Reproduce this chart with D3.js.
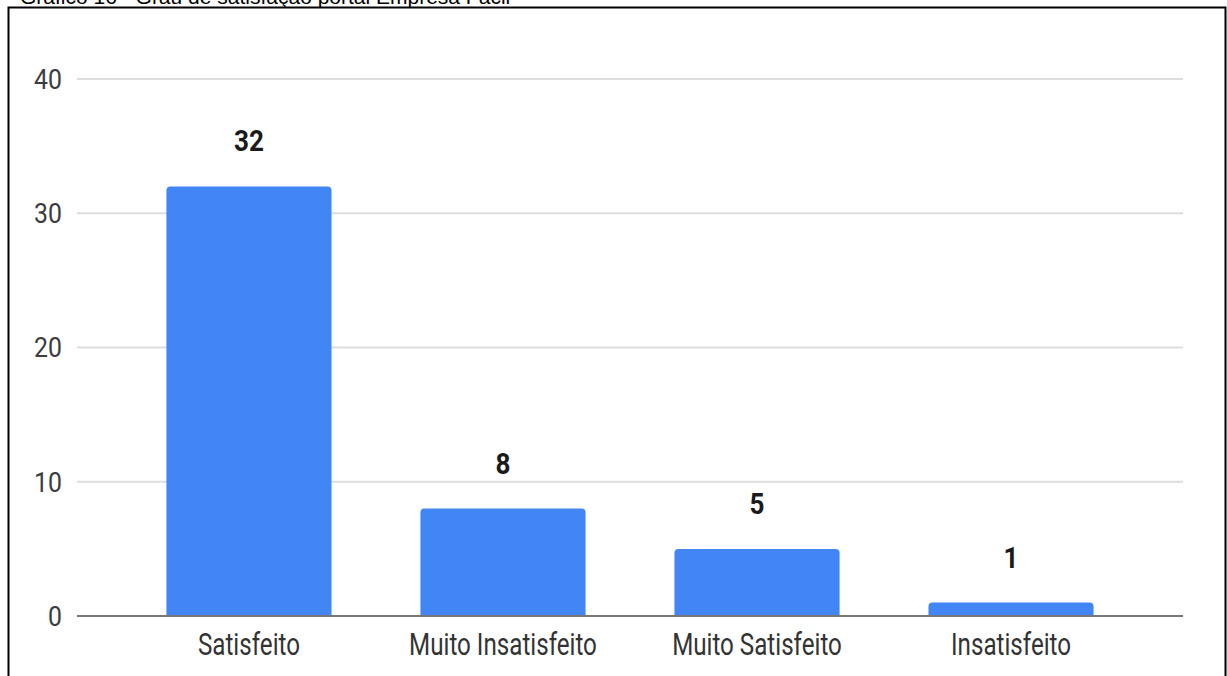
<!DOCTYPE html>
<html>
<head>
<meta charset="utf-8">
<script src="https://cdn.jsdelivr.net/npm/d3@7"></script>
<style>
  html, body { margin: 0; padding: 0; background: #fff; }
  svg { display: block; }
</style>
</head>
<body>
<svg id="chart" width="1227" height="676"></svg>
<script>
// Survey responses: satisfaction with the Empresa Fácil portal
const categories = ["Satisfeito", "Muito Insatisfeito", "Muito Satisfeito", "Insatisfeito"];
const counts = [32, 8, 5, 1];
const yTicks = [0, 10, 20, 30, 40];
const caption = "Gráfico 16 - Grau de satisfação portal Empresa Fácil";

const svg = d3.select("#chart");
const plot = { left: 77, right: 1183, top: 79, bottom: 616 };

const x = d3.scaleBand()
  .domain(categories)
  .range([plot.left, plot.right])
  .paddingInner(0.35)
  .paddingOuter(0.352);

const y = d3.scaleLinear()
  .domain([0, 40])
  .range([plot.bottom, plot.top]);

// Caption running off the top edge of the page
svg.append("text")
  .attr("x", 20)
  .attr("y", 4)
  .attr("font-family", "'Liberation Sans', Arial, sans-serif")
  .attr("font-size", 21)
  .attr("fill", "#000")
  .text(caption);

// Frame around the chart
svg.append("rect")
  .attr("x", 8.5).attr("y", 7.5)
  .attr("width", 1217).attr("height", 690)
  .attr("fill", "none")
  .attr("stroke", "#000")
  .attr("stroke-width", 2);

// Horizontal gridlines
svg.append("g")
  .selectAll("line")
  .data(yTicks.filter(d => d !== 0))
  .join("line")
  .attr("x1", plot.left).attr("x2", plot.right)
  .attr("y1", d => y(d)).attr("y2", d => y(d))
  .attr("stroke", "#dddddd")
  .attr("stroke-width", 2);

// Y tick labels
const yAxis = d3.axisLeft(y).tickValues(yTicks).tickSize(0).tickPadding(0);
const yg = svg.append("g").attr("transform", `translate(${plot.left - 15},0)`).call(yAxis);
yg.select(".domain").remove();
yg.selectAll("text")
  .attr("font-family", "Roboto, sans-serif")
  .attr("font-size", 27)
  .attr("fill", "#3c3c3c")
  .attr("dy", "0.35em")
  .attr("text-anchor", "end")
  .attr("x", 0)
  .attr("transform", "scale(0.92,1)");

// Bars with softly rounded tops
const r = 4;
function barPath(cat, v) {
  const x0 = x(cat), w = x.bandwidth();
  const y0 = y(v), yb = y(0);
  const rr = Math.min(r, (yb - y0));
  return `M${x0},${yb} V${y0 + rr} Q${x0},${y0} ${x0 + rr},${y0} H${x0 + w - rr} Q${x0 + w},${y0} ${x0 + w},${y0 + rr} V${yb} Z`;
}
const rows = categories.map((c, i) => ({ c, v: counts[i] }));
svg.append("g")
  .selectAll("path")
  .data(rows)
  .join("path")
  .attr("d", d => barPath(d.c, d.v))
  .attr("fill", "#4285f4");

// Baseline
svg.append("line")
  .attr("x1", plot.left).attr("x2", plot.right)
  .attr("y1", y(0)).attr("y2", y(0))
  .attr("stroke", "#777")
  .attr("stroke-width", 2);

// Value labels above bars
svg.append("g")
  .selectAll("text")
  .data(rows)
  .join("text")
  .attr("transform", d => `translate(${x(d.c) + x.bandwidth() / 2},${y(d.v) - 35}) scale(0.9,1)`)
  .attr("text-anchor", "middle")
  .attr("font-family", "Roboto, sans-serif")
  .attr("font-weight", "bold")
  .attr("font-size", 29)
  .attr("fill", "#1a1a1a")
  .text(d => d.v);

// Category labels
svg.append("g")
  .selectAll("text")
  .data(categories)
  .join("text")
  .attr("transform", d => `translate(${x(d) + x.bandwidth() / 2},${y(0) + 39}) scale(0.78,1)`)
  .attr("text-anchor", "middle")
  .attr("font-family", "Roboto, sans-serif")
  .attr("font-size", 31)
  .attr("fill", "#333")
  .text(d => d);
</script>
</body>
</html>
